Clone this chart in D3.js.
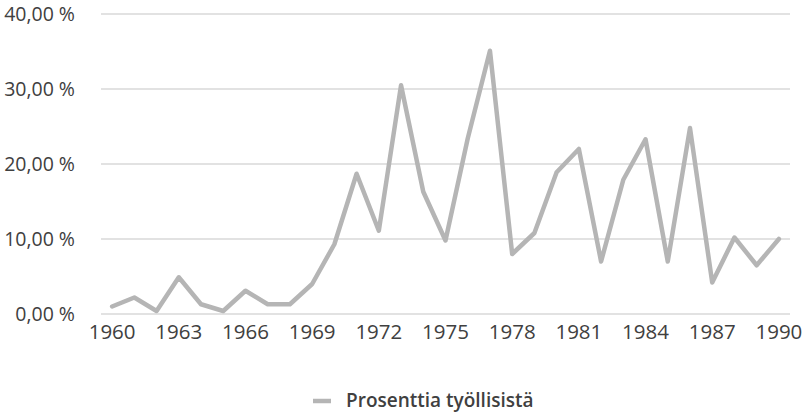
<!DOCTYPE html>
<html>
<head>
<meta charset="utf-8">
<script src="https://cdn.jsdelivr.net/npm/d3@7"></script>
<style>
  body { margin: 0; background: #fff; }
  text { font-family: "Open Sans", Lato, sans-serif; }
</style>
</head>
<body>
<svg id="chart" width="805" height="414"></svg>
<script>
// data
const years = d3.range(1960, 1991);
const values = [1.0, 2.2, 0.4, 4.9, 1.3, 0.4, 3.1, 1.3, 1.3, 4.0,
  9.3, 18.7, 11.1, 30.5, 16.3, 9.8, 23.4, 35.1, 8.0, 10.8,
  18.9, 22.0, 7.0, 17.9, 23.3, 7.0, 24.8, 4.2, 10.2, 6.5, 10.0];
const yTicks = [0, 10, 20, 30, 40];
const xTickYears = d3.range(1960, 1991, 3);
const seriesName = "Prosenttia työllisistä";

const data = years.map((y, i) => ({ year: y, value: values[i] }));

const svg = d3.select("#chart");
const margin = { top: 14, right: 15, bottom: 100, left: 101 };
const width = 805 - margin.left - margin.right;
const height = 414 - margin.top - margin.bottom;

const g = svg.append("g").attr("transform", `translate(${margin.left},${margin.top})`);

const x = d3.scalePoint().domain(years).range([0, width]).padding(0.5);
const y = d3.scaleLinear().domain([0, 40]).range([height, 0]);

// gridlines
g.append("g")
  .selectAll("line")
  .data(yTicks)
  .join("line")
  .attr("x1", 0)
  .attr("x2", width)
  .attr("y1", d => y(d))
  .attr("y2", d => y(d))
  .attr("stroke", "#d9d9d9")
  .attr("stroke-width", 1.5);

// y labels
g.append("g")
  .selectAll("text")
  .data(yTicks)
  .join("text")
  .attr("x", -26)
  .attr("y", d => y(d))
  .attr("dy", "0.35em")
  .attr("text-anchor", "end")
  .attr("font-size", 19.5)
  .attr("fill", "#404040")
  .text(d => d3.format(".2f")(d).replace(".", ",") + " %");

// x labels
g.append("g")
  .selectAll("text")
  .data(xTickYears)
  .join("text")
  .attr("x", d => x(d))
  .attr("y", height + 25)
  .attr("text-anchor", "middle")
  .attr("font-size", 20.5)
  .attr("fill", "#404040")
  .text(d => d);

// line
const line = d3.line().x(d => x(d.year)).y(d => y(d.value));
g.append("path")
  .datum(data)
  .attr("d", line)
  .attr("fill", "none")
  .attr("stroke", "#b5b5b5")
  .attr("stroke-width", 4.5)
  .attr("stroke-linejoin", "round")
  .attr("stroke-linecap", "round");

// legend
const legend = svg.append("g").attr("transform", "translate(313,401)");
legend.append("line")
  .attr("x1", 0).attr("x2", 18)
  .attr("stroke", "#b5b5b5").attr("stroke-width", 4.5);
legend.append("text")
  .attr("x", 33)
  .attr("dy", "0.33em")
  .attr("font-size", 19)
  .attr("font-weight", 600)
  .attr("fill", "#404040")
  .text(seriesName);
</script>
</body>
</html>
